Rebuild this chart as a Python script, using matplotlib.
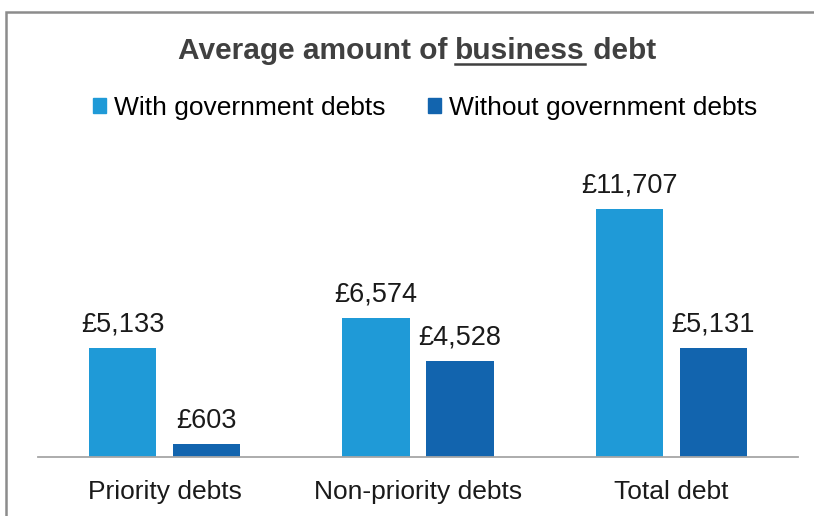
import matplotlib.pyplot as plt
import numpy as np
from matplotlib.patches import Rectangle
from matplotlib.lines import Line2D

plt.rcParams['font.family'] = ['Liberation Sans', 'DejaVu Sans']

categorias = ['Priority debts', 'Non-priority debts', 'Total debt']
series = ['With government debts', 'Without government debts']
con_gobierno = [5133, 6574, 11707]
sin_gobierno = [603, 4528, 5131]
colores = ['#1f9ad7', '#1264ae']

W, H = 814, 516
fig = plt.figure(figsize=(W / 100, H / 100), dpi=100)

# ejes: linea base en y=457 px, de x=38 a x=798 px
ax = fig.add_axes([38 / W, (H - 457) / H, 760 / W, (457 - 160) / H])
x = np.arange(len(categorias))
ancho = 0.265
desp = 0.166
b1 = ax.bar(x - desp, con_gobierno, ancho, color=colores[0])
b2 = ax.bar(x + desp, sin_gobierno, ancho, color=colores[1])

ymax = 297 / (248 / 11707)
ax.set_ylim(0, ymax)
ax.set_xlim(-0.5, 2.5)

for barras, vals in [(b1, con_gobierno), (b2, sin_gobierno)]:
    for b, v in zip(barras, vals):
        ax.annotate(f'£{v:,}', (b.get_x() + b.get_width() / 2, v),
                    xytext=(0, 7.5), textcoords='offset points',
                    ha='center', va='bottom', fontsize=19.5, color='#1a1a1a')

for s in ['top', 'right', 'left']:
    ax.spines[s].set_visible(False)
ax.spines['bottom'].set_color('#a6a6a6')
ax.spines['bottom'].set_linewidth(1.3)
ax.set_yticks([])
ax.set_xticks(x)
ax.set_xticklabels(categorias, fontsize=19, color='#1a1a1a')
ax.tick_params(axis='x', length=0, pad=16.5)

# titulo con "business" subrayado
fig.canvas.draw()
r = fig.canvas.get_renderer()
partes = ['Average amount of ', 'business', ' debt']
estilo = dict(fontsize=21.5, fontweight='bold', color='#404040')
anchos = []
for p in partes:
    t = fig.text(0, 0, p, **estilo)
    anchos.append(t.get_window_extent(r).width)
    t.remove()
x0 = 417 - sum(anchos) / 2
y_base = H - 59
for p, w in zip(partes, anchos):
    fig.text(x0 / W, y_base / H, p, ha='left', va='baseline', **estilo)
    if p == 'business':
        fig.add_artist(Line2D([x0 / W, (x0 + w) / W], [(y_base - 5) / H] * 2,
                              color='#404040', lw=1.8))
    x0 += w

# leyenda
manijas = [Rectangle((0, 0), 1, 1, color=c) for c in colores]
fig.legend(manijas, series, loc='center', bbox_to_anchor=(425 / W, (H - 108) / H),
           ncol=2, frameon=False, fontsize=19, handlelength=0.5, handleheight=0.5,
           handletextpad=0.3, columnspacing=1.6)

# marco del grafico
fig.add_artist(Rectangle((6 / W, -0.1), 1.0, (H - 12) / H + 0.1, fill=False,
                         edgecolor='#8c8c8c', lw=1.8, transform=fig.transFigure))

fig.savefig('out.png', dpi=100)
